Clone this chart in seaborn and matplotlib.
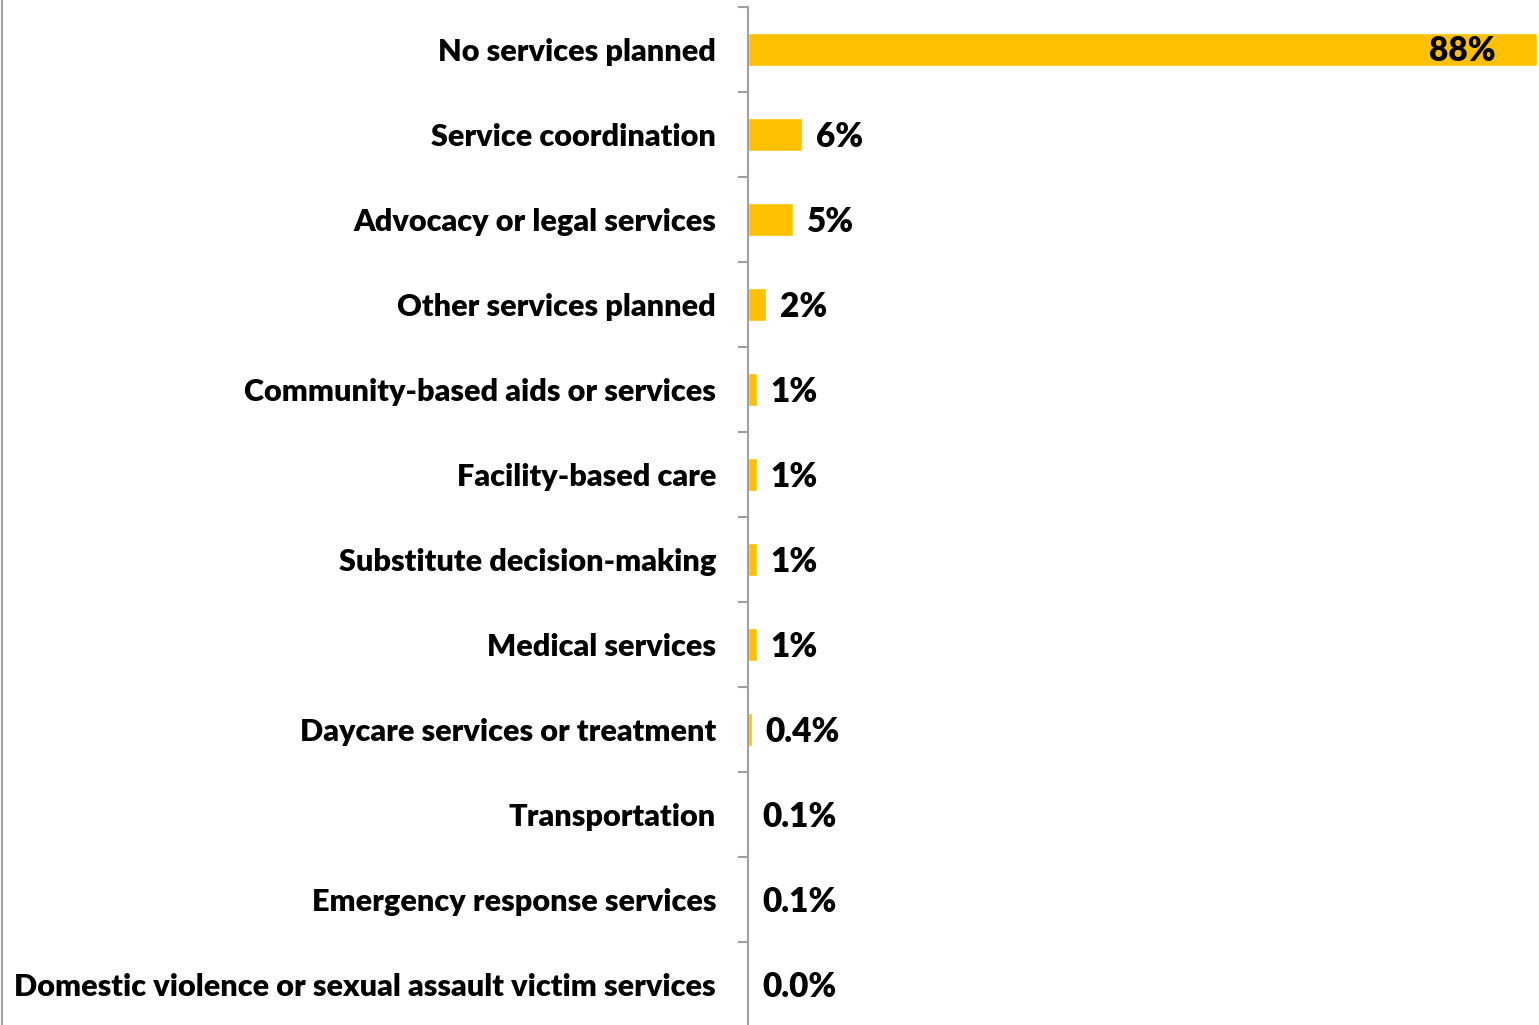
import matplotlib
matplotlib.use("Agg")
import matplotlib.pyplot as plt
import seaborn as sns
import pandas as pd
from matplotlib.lines import Line2D
from matplotlib.ticker import FixedLocator

categories = [
    "No services planned",
    "Service coordination",
    "Advocacy or legal services",
    "Other services planned",
    "Community-based aids or services",
    "Facility-based care",
    "Substitute decision-making",
    "Medical services",
    "Daycare services or treatment",
    "Transportation",
    "Emergency response services",
    "Domestic violence or sexual assault victim services",
]
values = [88, 6, 5, 2, 1, 1, 1, 1, 0.4, 0.1, 0.1, 0.0]
value_labels = ["88%", "6%", "5%", "2%", "1%", "1%", "1%", "1%",
                "0.4%", "0.1%", "0.1%", "0.0%"]

sns.set_style("white")
plt.rcParams["font.family"] = ["Lato", "DejaVu Sans"]
plt.rcParams["font.weight"] = "heavy"

df = pd.DataFrame({"category": categories, "value": values})

fig = plt.figure(figsize=(15.39, 10.25), dpi=100)
ax = fig.add_axes([748 / 1539, -2 / 1025, 791 / 1539, 1020 / 1025])

sns.barplot(data=df, x="value", y="category", orient="h", color="#FFC000",
            saturation=1, width=0.39, ax=ax)

ax.set_xlim(0, 88 * 791 / 789)
ax.set_ylim(len(categories) - 0.5, -0.5)
ax.set_xlabel("")
ax.set_ylabel("")
ax.set_xticks([])

for s in ["top", "right", "bottom"]:
    ax.spines[s].set_visible(False)
ax.spines["left"].set_color("#A0A0A0")
ax.spines["left"].set_linewidth(1.5)

ax.tick_params(axis="y", which="major", left=False, length=0, pad=23,
               labelsize=22.1)
ax.yaxis.set_minor_locator(FixedLocator([i - 0.5 for i in range(len(categories) + 1)]))
ax.tick_params(axis="y", which="minor", left=True, length=7.5, width=1.5,
               color="#A0A0A0")
for t in ax.get_yticklabels():
    t.set_fontweight("heavy")
    t.set_color("black")

for i, (v, lab) in enumerate(zip(values, value_labels)):
    if i == 0:
        ax.annotate(lab, (v, i), xytext=(-30, -1), textcoords="offset points",
                    ha="right", va="center", fontsize=24, fontweight="heavy",
                    color="black")
    else:
        ax.annotate(lab, (v, i), xytext=(10, -2), textcoords="offset points",
                    ha="left", va="center", fontsize=24, fontweight="heavy",
                    color="black")

fig.add_artist(Line2D([2 / 1539, 2 / 1539], [0, 1], color="#A0A0A0",
                      linewidth=1.5, transform=fig.transFigure))

fig.savefig("out.png", dpi=100)
